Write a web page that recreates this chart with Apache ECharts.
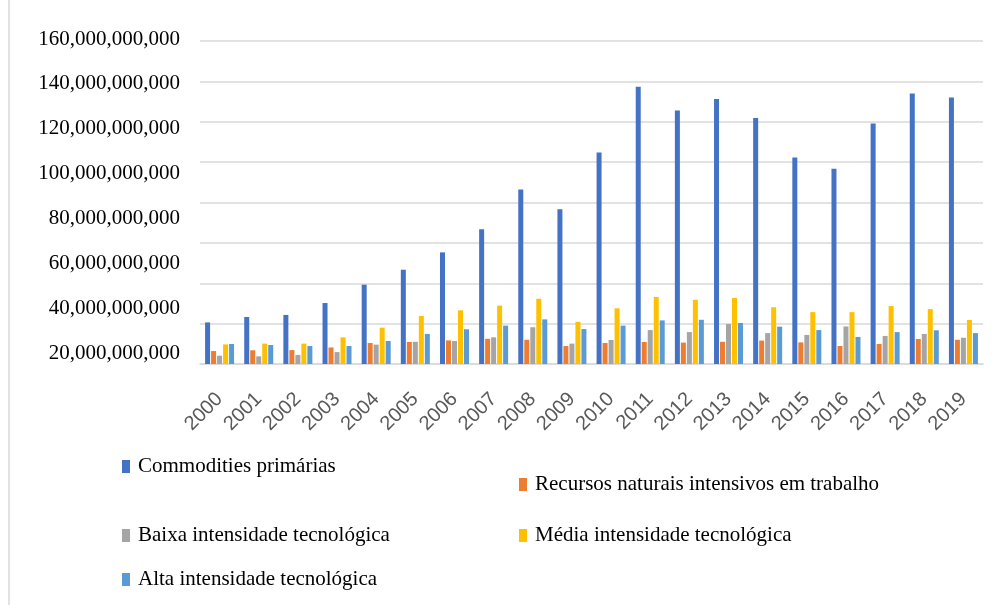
<!DOCTYPE html>
<html>
<head>
<meta charset="utf-8">
<title>Exportações por intensidade tecnológica</title>
<script src="https://cdn.jsdelivr.net/npm/echarts@6/dist/echarts.min.js"></script>
<style>
  html, body { margin: 0; padding: 0; background: #fff; }
  #chart { width: 1001px; height: 605px; }
</style>
</head>
<body>
<div id="chart"></div>
<script>
  // anos do eixo x
  var years = ['2000', '2001', '2002', '2003', '2004', '2005', '2006', '2007', '2008', '2009',
               '2010', '2011', '2012', '2013', '2014', '2015', '2016', '2017', '2018', '2019']

  // valores em bilhoes
  var commodities = [20.6, 23.3, 24.3, 30.2, 39.3, 46.7, 55.3, 66.8, 86.5, 76.6,
                     104.8, 137.3, 125.6, 131.3, 121.9, 102.3, 96.7, 119.1, 134.0, 132.0]
  var recursos = [6.4, 6.8, 6.9, 8.2, 10.4, 10.9, 11.7, 12.5, 12.0, 8.9,
                  10.4, 10.9, 10.6, 11.0, 11.6, 10.7, 8.9, 9.9, 12.4, 12.0]
  var baixa = [4.1, 3.8, 4.5, 5.9, 9.6, 11.0, 11.4, 13.2, 18.2, 10.1,
               11.9, 16.8, 15.8, 19.8, 15.3, 14.4, 18.6, 13.9, 14.9, 13.0]
  var media = [9.7, 10.1, 10.1, 13.2, 18.0, 23.8, 26.6, 28.9, 32.3, 20.9,
               27.6, 33.2, 31.8, 32.7, 28.1, 25.7, 25.7, 28.7, 27.2, 21.8]
  var alta = [9.9, 9.4, 8.9, 8.9, 11.4, 14.9, 17.2, 19.0, 22.1, 17.3,
              19.0, 21.6, 21.9, 20.3, 18.5, 16.8, 13.4, 15.8, 16.7, 15.3]

  // rotulos do eixo y (bilhoes)
  var yTicks = [20, 40, 60, 80, 100, 120, 140, 160]

  var names = ['Commodities primárias', 'Recursos naturais intensivos em trabalho',
               'Baixa intensidade tecnológica', 'Média intensidade tecnológica',
               'Alta intensidade tecnológica']
  var colors = ['#4472C4', '#ED7D31', '#A5A5A5', '#FFC000', '#5B9BD5']
  var values = [commodities, recursos, baixa, media, alta]

  // posicao de cada legenda (duas colunas irregulares como no original)
  var legendPos = [
    { left: 122, top: 456 },
    { left: 519, top: 474 },
    { left: 122, top: 525 },
    { left: 519, top: 525 },
    { left: 122, top: 569 }
  ]

  var fmt = function (v) {
    return (Math.round(v) * 1e9).toLocaleString('en-US')
  }

  var series = []
  for (var i = 0; i < names.length; i++) {
    series.push({
      name: names[i],
      type: 'bar',
      xAxisIndex: 0,
      yAxisIndex: 0,
      barWidth: 5,
      barGap: '20%',
      itemStyle: { color: colors[i] },
      data: values[i]
    })
  }

  var legends = []
  for (var j = 0; j < names.length; j++) {
    legends.push({
      data: [names[j]],
      left: legendPos[j].left,
      top: legendPos[j].top,
      padding: 0,
      icon: 'rect',
      itemWidth: 8,
      itemHeight: 13,
      textStyle: {
        fontFamily: 'Liberation Serif',
        fontSize: 21,
        color: '#000',
        padding: [0, 0, 0, 3]
      }
    })
  }

  var option = {
    animation: false,
    backgroundColor: '#fff',
    color: colors,
    legend: legends,
    grid: [
      // area das barras
      { left: 200, right: 18, top: 41, bottom: 241 },
      // area apenas para os rotulos do eixo y (desalinhados no original)
      { left: 200, right: 18, top: 39, bottom: 252 }
    ],
    xAxis: [
      {
        type: 'category',
        gridIndex: 0,
        data: years,
        axisTick: { show: false },
        axisLine: { lineStyle: { color: '#d9d9d9', width: 1.5 } },
        axisLabel: {
          rotate: 45,
          margin: 32,
          interval: 0,
          fontFamily: 'Liberation Sans',
          fontSize: 20,
          color: '#595959'
        }
      },
      {
        type: 'category',
        gridIndex: 1,
        show: false,
        data: years
      }
    ],
    yAxis: [
      {
        type: 'value',
        gridIndex: 0,
        min: 0,
        max: 160,
        interval: 20,
        axisLabel: { show: false },
        axisLine: { show: false },
        axisTick: { show: false },
        splitLine: { lineStyle: { color: '#d9d9d9', width: 1.5 } }
      },
      {
        type: 'value',
        gridIndex: 1,
        min: yTicks[0],
        max: yTicks[yTicks.length - 1],
        interval: yTicks[1] - yTicks[0],
        axisLine: { show: false },
        axisTick: { show: false },
        splitLine: { show: false },
        axisLabel: {
          margin: 20,
          fontFamily: 'Liberation Serif',
          fontSize: 21,
          color: '#000',
          formatter: fmt
        }
      }
    ],
    graphic: [
      // borda fina da moldura
      {
        type: 'line',
        shape: { x1: 9, y1: 0, x2: 9, y2: 605 },
        style: { stroke: '#d9d9d9', lineWidth: 1.5 }
      }
    ],
    series: series
  }

  var myChart = echarts.init(document.getElementById('chart'))
  myChart.setOption(option)
</script>
</body>
</html>
